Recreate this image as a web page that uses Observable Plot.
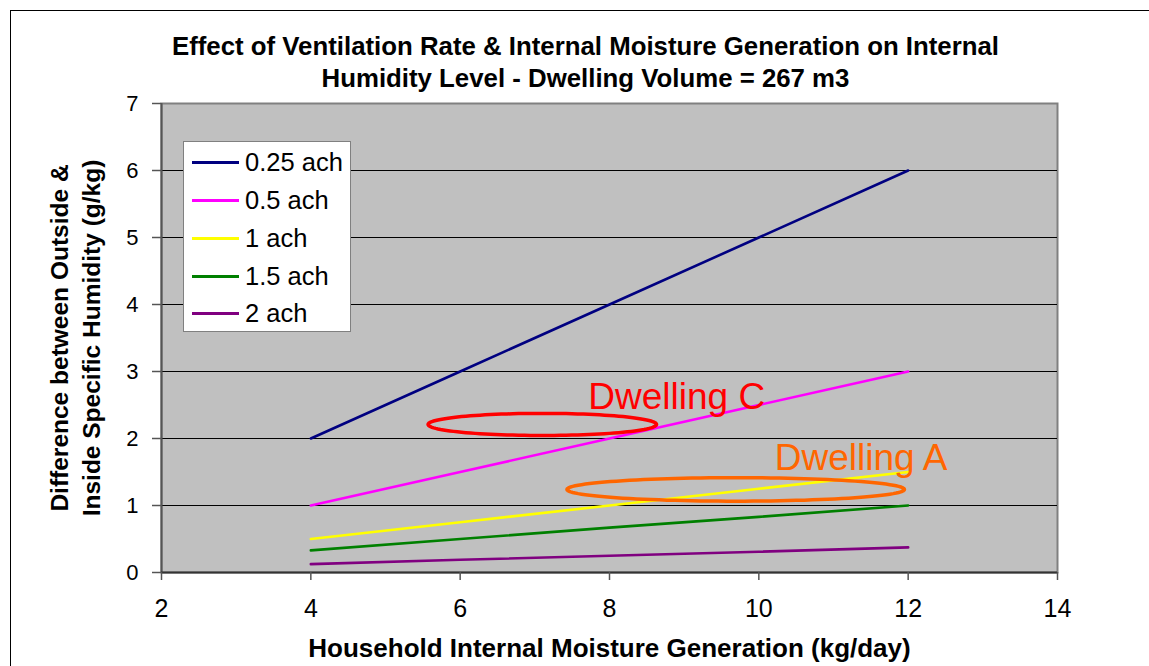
<!DOCTYPE html>
<html><head><meta charset="utf-8">
<script src="https://cdn.jsdelivr.net/npm/d3@7"></script>
<script src="https://cdn.jsdelivr.net/npm/@observablehq/plot@0.6"></script>
<style>
body{margin:0;background:#fff;font-family:"Liberation Sans",Arial,sans-serif;}
#wrap{position:relative;width:1149px;height:666px;overflow:hidden;background:#fff;}
#border{position:absolute;left:10px;top:10px;width:1200px;height:700px;border:1.5px solid #000;box-sizing:border-box;pointer-events:none;}
#title{position:relative;height:92px;padding-top:30px;padding-left:22px;box-sizing:border-box;text-align:center;font-weight:bold;font-size:25.8px;line-height:32px;color:#000;white-space:nowrap;}
#chart svg{display:block;overflow:visible;}
#legend{position:absolute;left:183px;top:141px;width:168px;height:191px;background:#fff;border:1px solid #808080;box-sizing:border-box;padding-top:2px;}
.row{height:37.75px;display:flex;align-items:center;font-size:25.5px;color:#000;}
.sw{width:47px;height:3px;margin-left:8px;margin-right:6px;}
</style></head>
<body>
<div id="wrap">
  <div id="border"></div>
  <div id="title"></div>
  <div id="chart"></div>
  <div id="legend"></div>
</div>
<script>
const titleLines = ["Effect of Ventilation Rate & Internal Moisture Generation on Internal", "Humidity Level - Dwelling Volume = 267 m3"];
const xLabel = "Household Internal Moisture Generation (kg/day)";
const yLabel = "Difference between Outside &\nInside Specific Humidity (g/kg)";
const series = ["0.25 ach", "0.5 ach", "1 ach", "1.5 ach", "2 ach"];
const colors = ["#000080", "#FF00FF", "#FFFF00", "#008000", "#800080"];
const moisture = [4, 6, 8, 10, 12];
const ach025 = [2, 3, 4, 5, 6];
const ach05 = [1, 1.5, 2, 2.5, 3];
const ach1 = [0.5, 0.75, 1, 1.25, 1.5];
const ach15 = [0.33, 0.5, 0.67, 0.83, 1.0];
const ach2 = [0.125, 0.19, 0.25, 0.31, 0.375];
const xTicks = [2, 4, 6, 8, 10, 12, 14];
const yTicks = [0, 1, 2, 3, 4, 5, 6, 7];
// annotations
const dwellNames = ["Dwelling C", "Dwelling A"];
const dwellColors = ["#FF0000", "#FF6600"];
const ellCx = [7.1, 9.69];
const ellCy = [2.21, 1.24];
const ellRx = [1.53, 2.26];
const ellRy = [0.165, 0.175];
const labelX = [8.9, 11.37];
const labelY = [2.61, 1.70];

document.getElementById("title").innerHTML = titleLines.join("<br>");

const allSeries = [ach025, ach05, ach1, ach15, ach2];
const rows = [];
series.forEach((s, i) => moisture.forEach((m, j) => rows.push({series: s, x: m, y: allSeries[i][j]})));

const ellPts = [];
dwellNames.forEach((n, k) => {
  for (let t = 0; t < 120; t++) {
    const a = t / 120 * 2 * Math.PI;
    ellPts.push({name: n, x: ellCx[k] + ellRx[k] * Math.cos(a), y: ellCy[k] + ellRy[k] * Math.sin(a), c: dwellColors[k]});
  }
});
const labels = dwellNames.map((n, k) => ({name: n, x: labelX[k], y: labelY[k], c: dwellColors[k]}));

const chart = Plot.plot({
  width: 1149, height: 574,
  marginTop: 11, marginLeft: 161, marginRight: 92, marginBottom: 94,
  x: {domain: [2, 14]},
  y: {domain: [0, 7]},
  color: {domain: series, range: colors},
  style: {fontFamily: '"Liberation Sans", Arial, sans-serif', background: "transparent", color: "#000", overflow: "visible"},
  marks: [
    Plot.frame({fill: "#C0C0C0", stroke: "#808080", strokeWidth: 2}),
    Plot.gridY(yTicks.slice(1, -1), {stroke: "#000", strokeOpacity: 1, strokeWidth: 1}),
    Plot.ruleX([2], {stroke: "#555", strokeWidth: 2}),
    Plot.ruleY([0], {stroke: "#333", strokeWidth: 2}),
    Plot.axisX(xTicks, {tickSize: 8, tickPadding: 19, fontSize: 25, stroke: "#555", strokeWidth: 1.5, label: null, tickFormat: d => d}),
    Plot.axisY(yTicks, {tickSize: 9, tickPadding: 14, fontSize: 22, stroke: "#555", strokeWidth: 1.5, label: null, tickFormat: d => d}),
    Plot.line(rows, {x: "x", y: "y", z: "series", stroke: "series", strokeWidth: 2.6}),
    Plot.line(ellPts, {x: "x", y: "y", z: "name", stroke: "c", strokeWidth: 3.5, curve: "linear-closed"}),
    Plot.text(labels, {x: "x", y: "y", text: "name", fill: "c", fontSize: 37}),
    Plot.text([xLabel], {frameAnchor: "bottom", dy: 76, text: d => d, fontSize: 26, fontWeight: "bold", lineAnchor: "middle"}),
    Plot.text([yLabel], {frameAnchor: "left", dx: -88, rotate: -90, text: d => d, fontSize: 24.5, fontWeight: "bold", textAnchor: "middle", lineAnchor: "middle", lineHeight: 1.32})
  ]
});
document.getElementById("chart").appendChild(chart);

const legend = document.getElementById("legend");
series.forEach((s, i) => {
  const r = document.createElement("div");
  r.className = "row";
  const sw = document.createElement("div");
  sw.className = "sw";
  sw.style.background = colors[i];
  const t = document.createElement("span");
  t.textContent = s;
  r.appendChild(sw); r.appendChild(t);
  legend.appendChild(r);
});
</script>
</body></html>
